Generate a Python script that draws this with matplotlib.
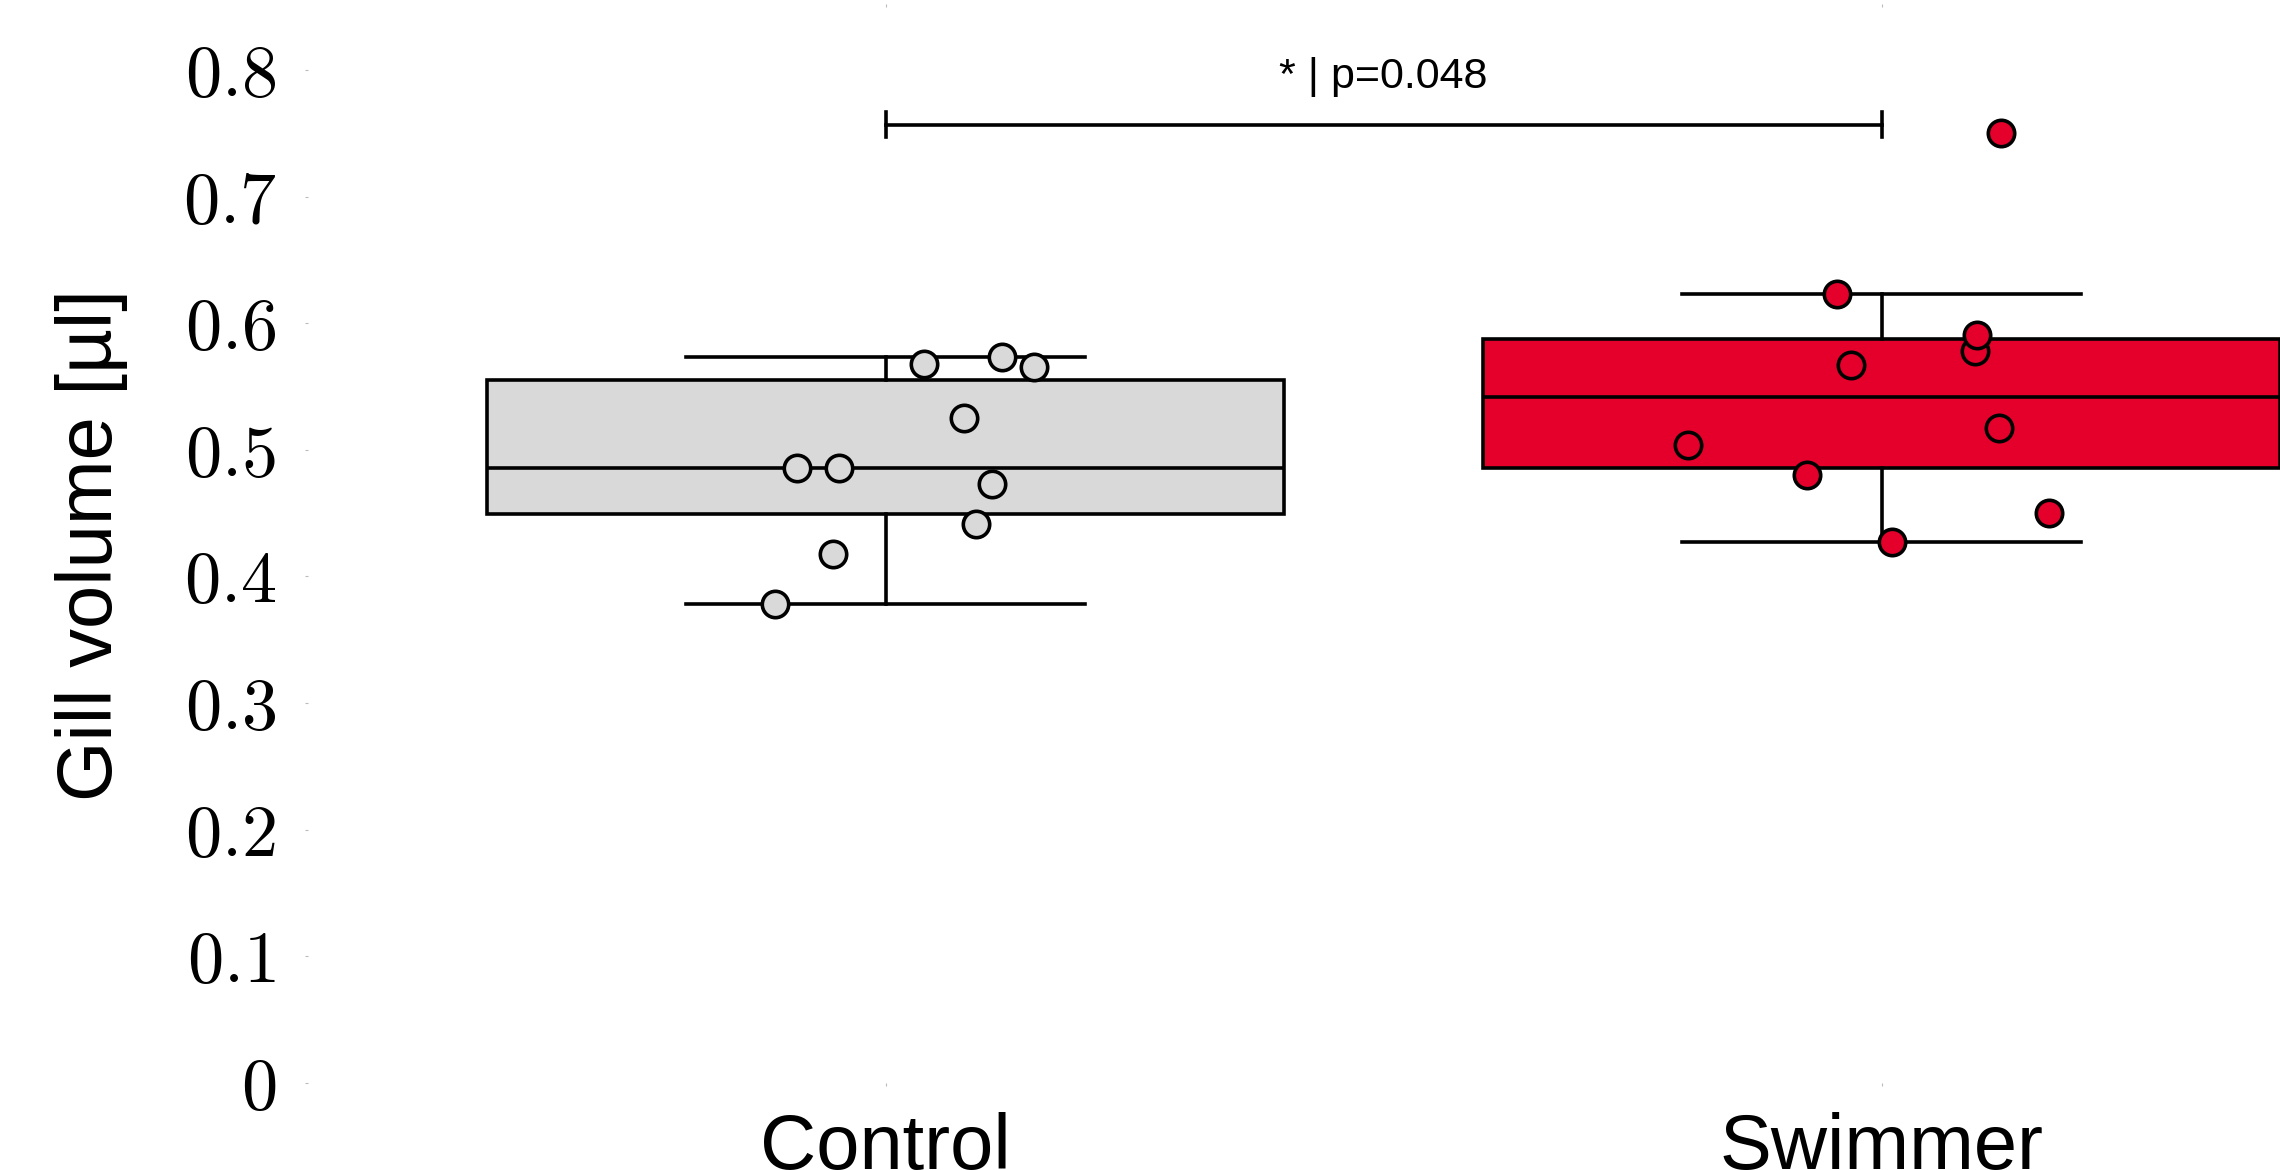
import matplotlib
matplotlib.use("Agg")
import matplotlib.pyplot as plt

# ---- data ----
categories = ["Control", "Swimmer"]
control_values = [0.378, 0.418, 0.486, 0.486, 0.441, 0.473, 0.525, 0.568, 0.573, 0.565]
control_jitter = [-0.111, -0.053, -0.089, -0.047, 0.091, 0.107, 0.079, 0.039, 0.117, 0.149]
swimmer_values = [0.504, 0.480, 0.623, 0.567, 0.427, 0.578, 0.591, 0.517, 0.450, 0.750]
swimmer_jitter = [-0.194, -0.075, -0.045, -0.031, 0.010, 0.094, 0.096, 0.118, 0.168, 0.120]
y_ticks = [0.0, 0.1, 0.2, 0.3, 0.4, 0.5, 0.6, 0.7, 0.8]
y_tick_labels = ["$0$", "$0.1$", "$0.2$", "$0.3$", "$0.4$", "$0.5$", "$0.6$", "$0.7$", "$0.8$"]
y_label = "Gill volume [µl]"
sig_label = "* | p=0.048"
sig_height = 0.7567

box_colors = ["#d9d9d9", "#e4002b"]
point_colors = ["#d9d9d9", "#e4002b"]

plt.rcParams["mathtext.fontset"] = "cm"
plt.rcParams["font.family"] = ["Liberation Sans", "DejaVu Sans"]

fig = plt.figure(figsize=(22.8, 11.7), dpi=100)
ax = fig.add_axes([0.135, 0.0744, 0.865, 0.920])

positions = [0, 1]
lw = 2.6
bp = ax.boxplot(
    [control_values, swimmer_values],
    positions=positions,
    widths=0.8,
    capwidths=0.4,
    patch_artist=True,
    showfliers=False,
    boxprops=dict(edgecolor="black", linewidth=lw),
    medianprops=dict(color="black", linewidth=lw),
    whiskerprops=dict(color="black", linewidth=lw),
    capprops=dict(color="black", linewidth=lw),
    zorder=2,
)
for patch, c in zip(bp["boxes"], box_colors):
    patch.set_facecolor(c)

for pos, vals, jit, c in zip(positions,
                             [control_values, swimmer_values],
                             [control_jitter, swimmer_jitter],
                             point_colors):
    xs = [pos + j for j in jit]
    ax.plot(xs, vals, linestyle="none", marker="o", markersize=19,
            markerfacecolor=c, markeredgecolor="black", markeredgewidth=2.6,
            zorder=3)

# significance bar
d = 0.01
ax.plot([positions[0], positions[1]], [sig_height, sig_height], color="black", lw=lw, zorder=4)
ax.plot([positions[0], positions[0]], [sig_height - d, sig_height + d], color="black", lw=lw, zorder=4)
ax.plot([positions[1], positions[1]], [sig_height - d, sig_height + d], color="black", lw=lw, zorder=4)
ax.text((positions[0] + positions[1]) / 2, 0.786, sig_label, ha="center", va="baseline",
        fontsize=31, color="black")

ax.set_xlim(-0.58, 1.40)
ax.set_ylim(0, 0.85)
ax.set_xticks(positions)
ax.set_xticklabels(categories, fontsize=56)
ax.set_yticks(y_ticks)
ax.set_yticklabels(y_tick_labels, fontsize=52)

for s in ax.spines.values():
    s.set_visible(False)
ax.tick_params(axis="both", length=2, width=0.8, color="#bbbbbb")
ax.tick_params(axis="x", top=True, pad=19)
ax.tick_params(axis="y", pad=21)

ax.set_ylabel(y_label, fontsize=56, va="center")
ax.yaxis.set_label_coords(-0.1095, 0.5)

fig.savefig("out.png", dpi=100)
